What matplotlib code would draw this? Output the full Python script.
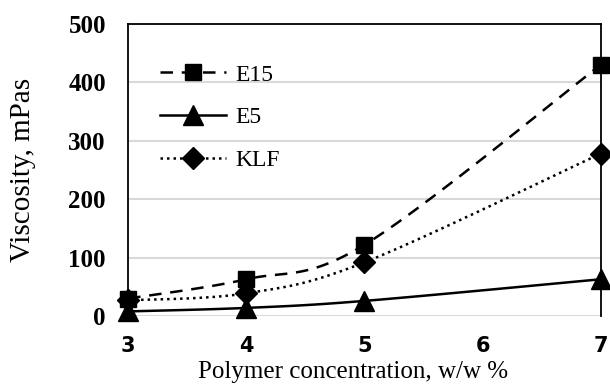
import numpy as np
import matplotlib.pyplot as plt

conc = [3, 4, 5, 7]
e15 = [30, 63, 122, 430]
e5 = [8, 14, 26, 63]
klf = [27, 39, 92, 278]
xticks = [3, 4, 5, 6, 7]
yticks = [0, 100, 200, 300, 400, 500]


def smooth(xs, ys, n=40):
    # catmull-rom style bezier like excel's smoothed line
    pts = np.column_stack([xs, ys]).astype(float)
    p = np.vstack([pts[0], pts, pts[-1]])
    out = []
    for i in range(1, len(p) - 2):
        p0, p1, p2, p3 = p[i - 1], p[i], p[i + 1], p[i + 2]
        c1 = p1 + (p2 - p0) / 6.0
        c2 = p2 - (p3 - p1) / 6.0
        t = np.linspace(0, 1, n)[:, None]
        seg = (1 - t) ** 3 * p1 + 3 * (1 - t) ** 2 * t * c1 + 3 * (1 - t) * t ** 2 * c2 + t ** 3 * p2
        out.append(seg)
    s = np.vstack(out)
    return s[:, 0], s[:, 1]


fig = plt.figure(figsize=(6.1, 3.85), dpi=100)
ax = fig.add_axes([0.21, 0.179, 0.775, 0.759])

series = [(e15, 's', (0, (5, 3.5)), 'E15', 12),
          (e5, '^', '-', 'E5', 14),
          (klf, 'D', (0, (1, 1.6)), 'KLF', 11)]
for ys, m, ls, lab, ms in series:
    sx, sy = smooth(conc, ys)
    ax.plot(sx, sy, color='black', linestyle=ls, linewidth=1.8, clip_on=False)
    ax.plot(conc, ys, linestyle='none', marker=m, markersize=ms, color='black', clip_on=False, zorder=4)
    ax.plot([], [], color='black', linestyle=ls, linewidth=1.8, marker=m, markersize=ms, label=lab)

ax.set_xlim(3, 7)
ax.set_ylim(0, 500)
ax.set_xticks(xticks)
ax.set_yticks(yticks)
ax.grid(axis='y', color='#d9d9d9', linewidth=1.5)
ax.set_axisbelow(True)
ax.tick_params(axis='y', length=0, pad=16)
ax.tick_params(axis='x', length=0, pad=14)
for sp in ['left', 'top', 'right']:
    ax.spines[sp].set_color('black')
    ax.spines[sp].set_linewidth(1.3)
ax.spines['bottom'].set_visible(False)

for t in ax.get_yticklabels():
    t.set_fontfamily('Liberation Serif')
    t.set_fontweight('bold')
    t.set_fontsize(18)
for t in ax.get_xticklabels():
    t.set_fontfamily('DejaVu Sans')
    t.set_fontweight('bold')
    t.set_fontsize(15)

ax.set_xlabel('Polymer concentration, w/w %', fontfamily='Liberation Serif', fontsize=18)
ax.xaxis.set_label_coords(0.476, -0.155)
ax.set_ylabel('Viscosity, mPas', fontfamily='Liberation Serif', fontsize=21, labelpad=23)

leg = ax.legend(loc='upper left', bbox_to_anchor=(0.022, 0.935), frameon=False, handlelength=2.8,
                labelspacing=0.9, handletextpad=0.4, prop={'family': 'Liberation Serif', 'size': 17})

fig.savefig('out.png', dpi=100)
